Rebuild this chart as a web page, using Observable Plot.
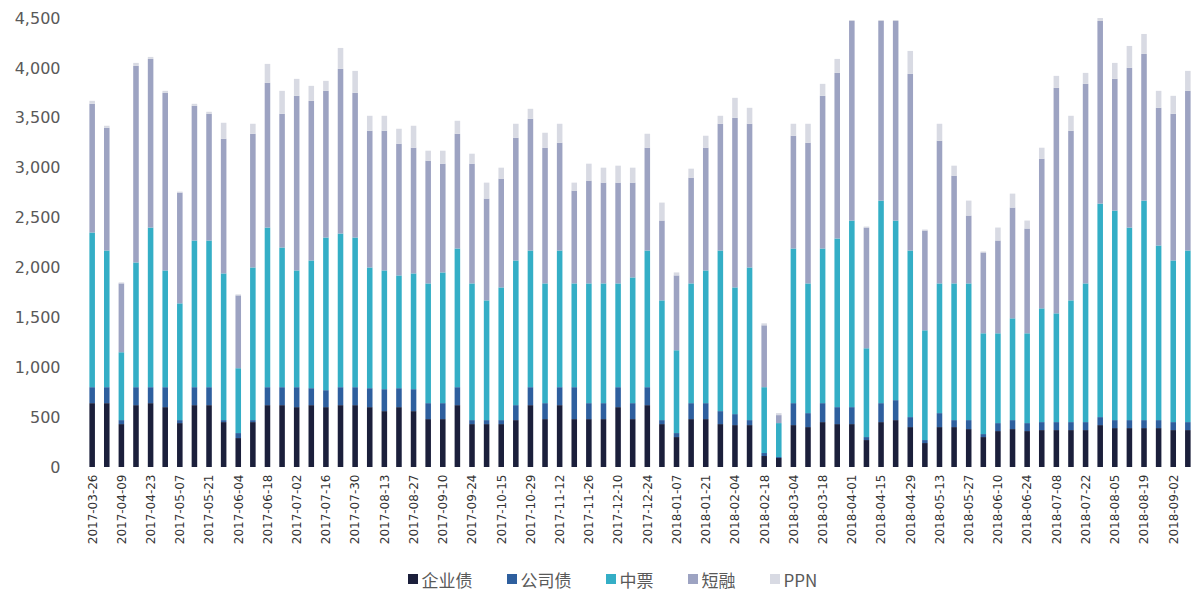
<!DOCTYPE html>
<html><head><meta charset="utf-8">
<script src="https://cdn.jsdelivr.net/npm/d3@7"></script>
<script src="https://cdn.jsdelivr.net/npm/@observablehq/plot@0.6"></script>
<style>
body{margin:0;background:#fff;font-family:"DejaVu Sans",sans-serif;}
#legend{display:flex;justify-content:center;gap:34px;font-size:17px;color:#595959;height:38px;align-items:center;padding-left:30px;font-family:"Noto Sans CJK SC","DejaVu Sans",sans-serif;}
#legend span.it{display:flex;align-items:center;}
.sw{display:inline-block;width:10px;height:10px;margin-right:4px;}
</style></head><body><div id="chart"></div><div id="legend"></div>
<script>
const dates = ["2017-03-26","2017-04-02","2017-04-09","2017-04-16","2017-04-23","2017-04-30","2017-05-07","2017-05-14","2017-05-21","2017-05-28",
"2017-06-04","2017-06-11","2017-06-18","2017-06-25","2017-07-02","2017-07-09","2017-07-16","2017-07-23","2017-07-30","2017-08-06",
"2017-08-13","2017-08-20","2017-08-27","2017-09-03","2017-09-10","2017-09-17","2017-09-24","2017-10-01","2017-10-15","2017-10-22",
"2017-10-29","2017-11-05","2017-11-12","2017-11-19","2017-11-26","2017-12-03","2017-12-10","2017-12-17","2017-12-24","2017-12-31",
"2018-01-07","2018-01-14","2018-01-21","2018-01-28","2018-02-04","2018-02-11","2018-02-18","2018-02-25","2018-03-04","2018-03-11",
"2018-03-18","2018-03-25","2018-04-01","2018-04-08","2018-04-15","2018-04-22","2018-04-29","2018-05-06","2018-05-13","2018-05-20",
"2018-05-27","2018-06-03","2018-06-10","2018-06-17","2018-06-24","2018-07-01","2018-07-08","2018-07-15","2018-07-22","2018-07-29",
"2018-08-05","2018-08-12","2018-08-19","2018-08-26","2018-09-02","2018-09-09"];
const tickLabels = ["2017-03-26","2017-04-09","2017-04-23","2017-05-07","2017-05-21","2017-06-04","2017-06-18","2017-07-02","2017-07-16","2017-07-30",
"2017-08-13","2017-08-27","2017-09-10","2017-09-24","2017-10-15","2017-10-29","2017-11-12","2017-11-26","2017-12-10","2017-12-24",
"2018-01-07","2018-01-21","2018-02-04","2018-02-18","2018-03-04","2018-03-18","2018-04-01","2018-04-15","2018-04-29","2018-05-13",
"2018-05-27","2018-06-10","2018-06-24","2018-07-08","2018-07-22","2018-08-05","2018-08-19","2018-09-02"];
const series = ["企业债","公司债","中票","短融","PPN"];
const colors = ["#1b1f3b","#2e5f9e","#34aec6","#9da3c2","#d8dae3"];
const qiye = [640,640,430,620,640,600,440,620,620,450, 290,450,620,620,600,620,600,620,620,600,
560,600,560,480,480,620,430,430,430,470, 620,480,620,480,480,480,600,480,620,430,
300,480,480,430,420,420,110,90,420,400, 450,430,430,270,450,470,400,240,400,400,
380,300,360,380,360,370,370,370,370,420, 390,390,390,390,370,370];
const gongsi = [160,160,40,180,160,200,30,180,180,20, 50,20,180,180,200,170,170,180,180,190,
220,190,220,160,160,180,40,40,40,150, 180,160,180,320,160,160,200,160,180,40,
40,160,160,130,110,50,30,10,220,140, 190,170,170,30,190,200,100,30,140,70,
90,30,80,90,80,80,80,80,80,80, 80,80,80,80,80,80];
const zhongpiao = [1550,1370,680,1250,1600,1170,1170,1470,1470,1470, 650,1530,1600,1400,1170,1280,1530,1540,1500,1210,
1190,1130,1160,1200,1310,1390,1370,1200,1330,1450, 1370,1200,1370,1040,1200,1200,1040,1260,1370,1200,
830,1200,1330,1610,1270,1530,660,340,1550,1300, 1550,1690,1870,890,2030,1800,1670,1100,1300,1370,
1370,1010,900,1020,900,1140,1090,1220,1390,2140, 2100,1930,2200,1750,1620,1720];
const duanrong = [1290,1230,690,1970,1690,1780,1110,1350,1270,1350, 730,1340,1450,1340,1750,1600,1470,1650,1450,1370,
1400,1320,1260,1230,1090,1150,1200,1020,1090,1230, 1320,1360,1080,930,1030,1010,1010,950,1030,800,
750,1060,1230,1270,1700,1440,620,80,1130,1410, 1530,1660,2000,1210,1800,2000,1770,1000,1430,1080,
680,810,930,1110,1050,1500,2260,1700,2000,1830, 1320,1600,1470,1380,1470,1600];
const ppn = [30,20,10,30,20,20,10,20,20,160, 10,100,190,230,170,150,100,210,220,150,
150,150,220,100,130,130,100,160,110,140, 100,150,190,80,170,150,170,150,140,180,
30,90,120,80,200,160,20,20,120,190, 120,140,10,10,10,10,230,10,170,100,
150,10,130,140,80,110,120,150,110,30, 160,220,200,170,180,200];
const yTicks = [0,500,1000,1500,2000,2500,3000,3500,4000,4500];

const valuesBySeries = [qiye, gongsi, zhongpiao, duanrong, ppn];
const rows = [];
series.forEach((s, k) => dates.forEach((d, i) => rows.push({date: d, series: s, value: valuesBySeries[k][i]})));

const chart = Plot.plot({
  width: 1195, height: 560,
  marginTop: 18, marginBottom: 93, marginLeft: 85, marginRight: 0,
  style: {fontFamily: "DejaVu Sans, sans-serif", background: "#fff"},
  x: {type: "band", domain: dates, paddingInner: 0.62, paddingOuter: 0.3, label: null, axis: null},
  y: {domain: [0, 4500], label: null, axis: null},
  color: {domain: series, range: colors},
  marks: [
    Plot.barY(rows, {x: "date", y: "value", fill: "series", order: series}),
    Plot.axisY({ticks: yTicks, tickFormat: d3.format(","), tickSize: 0, tickPadding: 25, fontSize: 16, color: "#595959", label: null}),
    Plot.axisX({ticks: tickLabels, tickRotate: -90, tickSize: 0, tickPadding: 7, fontSize: 12, color: "#333333", label: null})
  ]
});
document.getElementById("chart").appendChild(chart);

const lg = document.getElementById("legend");
series.forEach((s, k) => {
  const it = document.createElement("span");
  it.className = "it";
  it.innerHTML = `<span class="sw" style="background:${colors[k]}"></span>${s}`;
  lg.appendChild(it);
});
</script>
</body></html>
